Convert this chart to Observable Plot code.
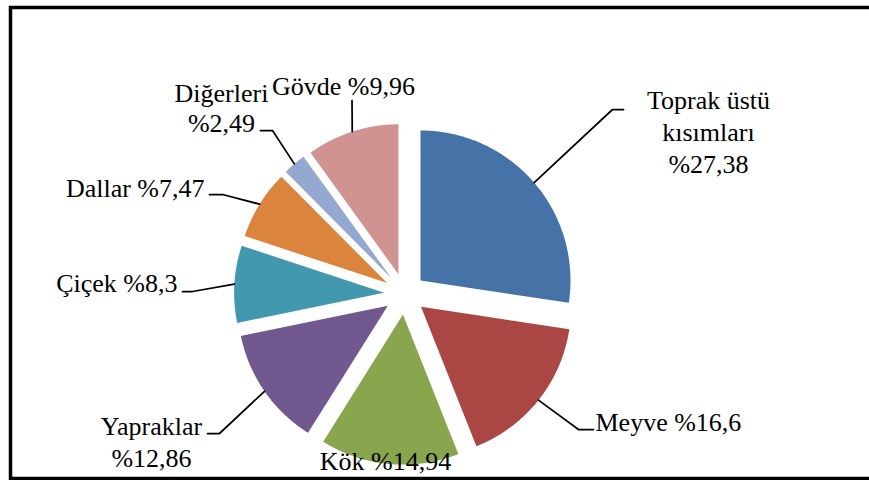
<!DOCTYPE html>
<html><head><meta charset="utf-8">
<script src="https://cdn.jsdelivr.net/npm/d3@7"></script>
<script src="https://cdn.jsdelivr.net/npm/@observablehq/plot@0.6"></script>
<style>html,body{margin:0;padding:0;background:#fff;overflow:hidden;}</style>
</head><body><div id="chart"></div>
<script>
// ---- data ----
const categories = ["Toprak üstü kısımları", "Meyve", "Kök", "Yapraklar", "Çiçek", "Dallar", "Diğerleri", "Gövde"];
const values = [27.38, 16.6, 14.94, 12.86, 8.3, 7.47, 2.49, 9.96];
const colors = ["#4572A7", "#AA4643", "#89A54E", "#71588F", "#4198AF", "#DB843D", "#93A9CF", "#D19392"];

// ---- layout (page pixels) ----
const W = 869, H = 480;
const pieLayout = {cx: 404.3, cy: 293.5, r: 150, explode: 20.7};
const labelLayout = [
  {x: 708, y: 172, anchor: "middle", breakAfter: 2, sep: "\n", lh: 1.23, path: [[612, 109], [623, 109]]},
  {x: 595, y: 430, anchor: "start", sep: " ", lh: 1.2, path: [[578, 429], [593, 429]]},
  {x: 385, y: 469, anchor: "middle", sep: " ", lh: 1.2, path: []},
  {x: 151, y: 466, anchor: "middle", sep: "\n", lh: 1.2, path: [[219, 433], [207, 433]]},
  {x: 177, y: 291, anchor: "end", sep: " ", lh: 1.2, path: [[192, 291], [182, 291]]},
  {x: 204, y: 196, anchor: "end", sep: " ", lh: 1.2, path: [[222, 194], [209, 194]]},
  {x: 221, y: 131, anchor: "middle", sep: "\n", lh: 1.15, path: [[272, 130], [260, 130]]},
  {x: 343, y: 94, anchor: "middle", sep: " ", lh: 1.2, path: [[351.5, 100]]}
];

// ---- geometry from values ----
const arcs = d3.pie().sort(null).value(d => d)(values);
const {cx, cy, r, explode} = pieLayout;
const pt = (a, rho, ox, oy) => ({x: cx + ox + rho * Math.sin(a), y: cy + oy - rho * Math.cos(a)});

const slicePts = [];
const leaderPts = [];
arcs.forEach((a, i) => {
  const name = categories[i];
  const mid = (a.startAngle + a.endAngle) / 2;
  const ox = explode * Math.sin(mid), oy = -explode * Math.cos(mid);
  slicePts.push({name, ...pt(0, 0, ox, oy)});
  const n = Math.max(2, Math.ceil((a.endAngle - a.startAngle) / (Math.PI / 360)));
  for (let k = 0; k <= n; k++) {
    const t = a.startAngle + (a.endAngle - a.startAngle) * k / n;
    slicePts.push({name, ...pt(t, r, ox, oy)});
  }
  const L = labelLayout[i];
  if (L.path.length) {
    leaderPts.push({name, ...pt(mid, r, ox, oy)});
    L.path.forEach(([x, y]) => leaderPts.push({name, x, y}));
  }
});

const fmt = v => String(v).replace(".", ",");
const labelText = (i) => {
  const L = labelLayout[i];
  let nm = categories[i];
  if (L.breakAfter) {
    const w = nm.split(" ");
    nm = w.slice(0, L.breakAfter).join(" ") + "\n" + w.slice(L.breakAfter).join(" ");
  }
  return nm + L.sep + "%" + fmt(values[i]);
};

const textMarks = labelLayout.map((L, i) =>
  Plot.text([{x: L.x, y: L.y, t: labelText(i)}], {
    x: "x", y: "y", text: "t", textAnchor: L.anchor, lineAnchor: "bottom",
    lineHeight: L.lh, fill: "#000", fontSize: 26, fontFamily: "Liberation Serif"
  })
);

const chart = Plot.plot({
  width: W, height: H,
  margin: 0,
  x: {type: "linear", domain: [0, W], range: [0, W], axis: null},
  y: {type: "linear", domain: [0, H], range: [0, H], axis: null},
  color: {domain: categories, range: colors},
  style: {background: "#fff", fontFamily: "Liberation Serif"},
  marks: [
    Plot.line(slicePts, {x: "x", y: "y", z: "name", fill: "name", stroke: null, curve: "linear-closed"}),
    Plot.line(leaderPts, {x: "x", y: "y", z: "name", stroke: "#000", strokeWidth: 1.75}),
    ...textMarks,
    Plot.frame({stroke: "#000", strokeWidth: 3.5, insetLeft: 10, insetTop: 7, insetBottom: 2, insetRight: -10})
  ]
});
document.getElementById("chart").appendChild(chart);
</script>
</body></html>
